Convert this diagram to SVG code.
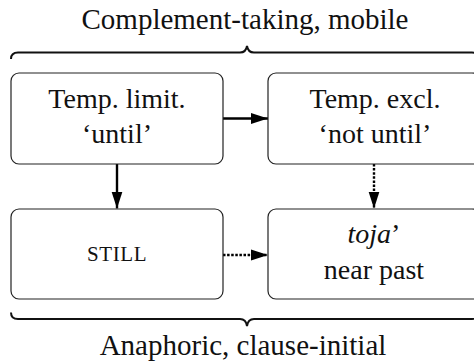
<svg xmlns="http://www.w3.org/2000/svg" width="474" height="364" viewBox="0 0 474 364">
  <defs>
    <style>
      .box { fill: #ffffff; stroke: #222; stroke-width: 1.2; }
      .lbl { font-family: "Liberation Serif", "DejaVu Serif", serif; font-size: 28px; fill: #111; text-anchor: middle; }
      .title { font-family: "Liberation Serif", "DejaVu Serif", serif; font-size: 29px; fill: #111; text-anchor: middle; }
      .sc { font-family: "Liberation Serif", "DejaVu Serif", serif; font-size: 21px; fill: #111; text-anchor: middle; letter-spacing: 0.6px; }
      .brace { fill: none; stroke: #111; stroke-width: 2; }
      .conn { fill: none; stroke: #000; stroke-width: 2.4; }
      .dot { stroke-dasharray: 2.5 1.6; }
    </style>
    <marker id="arr" markerUnits="userSpaceOnUse" markerWidth="18" markerHeight="12" refX="17" refY="6" orient="auto">
      <path d="M0,0.5 L17,6 L0,11.5 Z" fill="#000"/>
    </marker>
  </defs>

  <text class="title" x="245" y="29">Complement-taking, mobile</text>
  <path class="brace" d="M11 59 Q11 52.5 18 52.5 L240 52.5 Q246 52.5 247 46 Q248 52.5 254 52.5 L472 52.5 Q479 52.5 479 59"/>

  <g id="connectors">
    <line class="conn" x1="223" y1="118.5" x2="268" y2="118.5" marker-end="url(#arr)"/>
    <line class="conn" x1="117" y1="164" x2="117" y2="208.5" marker-end="url(#arr)"/>
    <line class="conn dot" x1="374" y1="164" x2="374" y2="208.5" marker-end="url(#arr)"/>
    <line class="conn dot" x1="223" y1="255" x2="268" y2="255" marker-end="url(#arr)"/>
  </g>

  <g id="node-limit">
    <rect class="box" x="11" y="73" width="212" height="91" rx="8"/>
    <text class="lbl" x="117" y="108">Temp. limit.</text>
    <text class="lbl" x="117" y="143">‘until’</text>
  </g>

  <g id="node-excl">
    <rect class="box" x="268" y="73" width="212" height="91" rx="8"/>
    <text class="lbl" x="375" y="108">Temp. excl.</text>
    <text class="lbl" x="375" y="143">‘not until’</text>
  </g>

  <g id="node-still">
    <rect class="box" x="11" y="209" width="212" height="90" rx="8"/>
    <text class="sc" x="117" y="261">STILL</text>
  </g>

  <g id="node-toja">
    <rect class="box" x="268" y="209" width="212" height="90" rx="8"/>
    <text class="lbl" x="374" y="243"><tspan font-style="italic">toja</tspan>’</text>
    <text class="lbl" x="374" y="279">near past</text>
  </g>

  <path class="brace" d="M11 312.5 Q11 319 18 319 L240 319 Q246 319 247 326 Q248 319 254 319 L472 319 Q479 319 479 312.5"/>
  <text class="title" x="243" y="355">Anaphoric, clause-initial</text>
</svg>
